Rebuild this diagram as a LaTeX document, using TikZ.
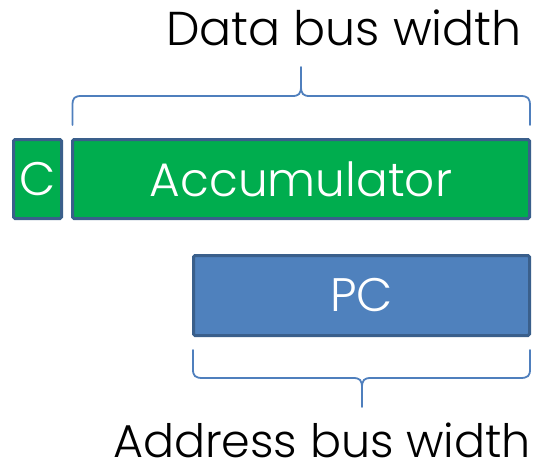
\documentclass[tikz,border=0pt]{standalone}
\usepackage{fontspec}
\setmainfont{Poppins}[UprightFont=* Light]
\definecolor{regborder}{HTML}{3A5F8B}
\definecolor{accgreen}{HTML}{00AD4E}
\definecolor{pcblue}{HTML}{4F81BD}
\definecolor{bracecol}{HTML}{4F7FBD}
\tikzset{
  reg/.style={draw=regborder, line width=3pt, rounded corners=1.5pt, inner sep=0pt,
    text=white, font=\fontsize{47}{54}\selectfont},
  bracepath/.style={draw=bracecol, line width=1.8pt, line join=round, line cap=round},
  caption/.style={anchor=base, text=black, inner sep=0pt}
}
\begin{document}
\begin{tikzpicture}[x=1pt,y=-1pt]
\useasboundingbox (0,0) rectangle (533,469);
% registers
\node[reg, fill=accgreen, minimum width=48pt, minimum height=79pt] (c) at (37.5,179) {C};
\node[reg, fill=accgreen, minimum width=457pt, minimum height=79pt] (acc) at (301,179) {Accumulator};
\node[reg, fill=pcblue, minimum width=336pt, minimum height=80pt] (pc) at (361.5,295.5) {PC};
% captions
\node[caption, font=\fontsize{47.5}{54}\selectfont] (data) at (344,45) {Data bus width};
\node[caption, font=\fontsize{46}{52}\selectfont] (addr) at (322,457.5) {Address bus width};
% brace over the accumulator
\draw[bracepath] (72.5,125) -- (72.5,106) .. controls (72.5,98) and (74,96) .. (82,96)
  -- (292,96) .. controls (299,96) and (301,94) .. (301,86) -- (301,67)
  -- (301,86) .. controls (301,94) and (303,96) .. (310,96)
  -- (520,96) .. controls (528,96) and (530,98) .. (530,106) -- (530,125);
% brace under the program counter
\draw[bracepath] (193,350) -- (193,369) .. controls (193,376) and (195,378) .. (203,378)
  -- (353,378) .. controls (360,378) and (362,380) .. (362,388) -- (362,407)
  -- (362,388) .. controls (362,380) and (364,378) .. (371,378)
  -- (520,378) .. controls (528,378) and (530,376) .. (530,369) -- (530,350);
\end{tikzpicture}
\end{document}
